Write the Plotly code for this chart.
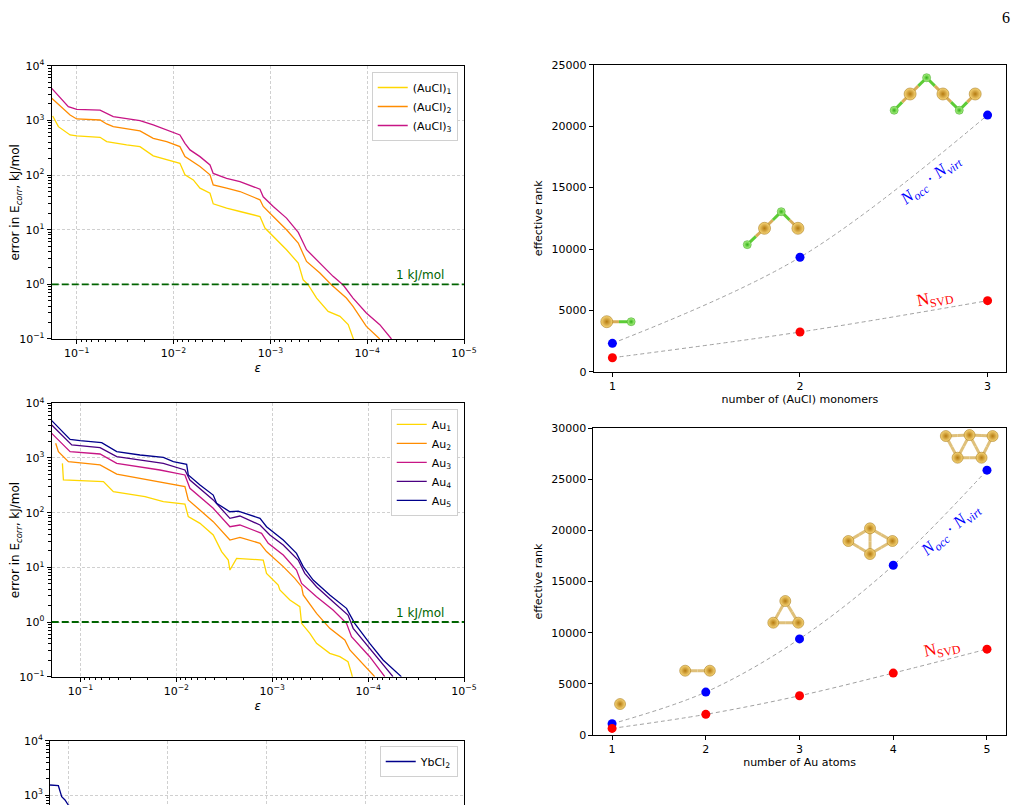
import plotly.graph_objects as go

# ---------------- convergence of the error with eps: (AuCl)n ----------------
eps_aucl1 = [0.177, 0.1545, 0.117, 0.1, 0.0574, 0.049, 0.0305, 0.0222, 0.0162, 0.01178, 0.00859,
             0.00762, 0.00625, 0.00533, 0.0042, 0.00389, 0.00283, 0.00206, 0.00128, 0.001137,
             0.000863, 0.000681, 0.000515, 0.000458, 0.000406, 0.000333, 0.000253, 0.000191,
             0.000157, 0.00014, 0.000134]
err_aucl1 = [1202, 767, 541, 518, 490, 408, 355, 331, 224, 189, 164, 101, 81.4, 57.4, 46.5, 29.7,
             24.7, 21.5, 17.4, 10.7, 6.53, 4.29, 2.45, 1.21, 0.98, 0.561, 0.320, 0.259, 0.183,
             0.112, 0.0845]

eps_aucl2 = [0.181, 0.117, 0.1, 0.0574, 0.049, 0.0419, 0.0222, 0.0162, 0.01178, 0.00859, 0.00762,
             0.00676, 0.00533, 0.0042, 0.00389, 0.00283, 0.00206, 0.00128, 0.001185, 0.000934,
             0.000681, 0.000515, 0.000423, 0.000308, 0.000233, 0.000164, 0.00014, 0.000102,
             0.0000741]
err_aucl2 = [2530, 1256, 1062, 1016, 859, 769, 640, 470, 408, 331, 217, 189, 143, 101, 66, 57.4,
             49.9, 35.2, 26.6, 17.4, 9.96, 5.68, 2.62, 1.61, 0.97, 0.561, 0.395, 0.170, 0.1]

eps_aucl3 = [0.181, 0.122, 0.1, 0.0574, 0.0419, 0.0222, 0.0162, 0.01178, 0.00859, 0.00762, 0.00676,
             0.00533, 0.0042, 0.00389, 0.00283, 0.00206, 0.00128, 0.001185, 0.000934, 0.000681,
             0.000515, 0.000423, 0.000308, 0.000225, 0.000177, 0.00014, 0.000102, 0.0000741,
             0.0000561]
err_aucl3 = [3855, 1780, 1590, 1540, 1170, 990, 824, 668, 541, 380, 288, 217, 153, 107, 87, 76, 55,
             40, 26.5, 16.3, 8.9, 4.3, 2.45, 1.40, 0.97, 0.56, 0.30, 0.183, 0.1]

# ---------------- convergence of the error with eps: Au_n ----------------
eps_au1 = [0.154, 0.1503, 0.0575, 0.0453, 0.0212, 0.01365, 0.00813, 0.0075, 0.00566, 0.00412,
           0.00337, 0.00287, 0.00276, 0.00235, 0.00124, 0.001146, 0.000865, 0.000832, 0.000654,
           0.000515, 0.000494, 0.000405, 0.000345, 0.000251, 0.000197, 0.000162, 0.000149, 0.000143]
err_au1 = [798, 396, 369, 242, 196, 159, 144, 84.5, 63.8, 39.0, 19.4, 13.6, 8.93, 14.6, 13.6, 7.76,
           4.75, 3.85, 2.52, 1.91, 0.946, 0.621, 0.407, 0.267, 0.232, 0.188, 0.115, 0.0869]

eps_au2 = [0.181, 0.1695, 0.1333, 0.0624, 0.0418, 0.01074, 0.00813, 0.0075, 0.00412, 0.00276,
           0.00217, 0.00134, 0.001146, 0.000767, 0.000581, 0.000494, 0.000475, 0.000345, 0.000251,
           0.000175, 0.000155, 0.0000853]
err_au2 = [1855, 1306, 857, 745, 509, 321, 299, 171, 68.4, 31.6, 35.4, 27.5, 19.4, 10.3, 6.29, 4.43,
           3.12, 1.44, 0.766, 0.469, 0.308, 0.1]

eps_au3 = [0.199, 0.128, 0.0624, 0.0418, 0.0148, 0.00813, 0.00721, 0.00412, 0.00276, 0.00217,
           0.00129, 0.0011, 0.000767, 0.000558, 0.000494, 0.000345, 0.000232, 0.000168, 0.000149,
           0.0000962, 0.000067]
err_au3 = [2820, 1306, 1183, 798, 603, 489, 279, 120, 55.4, 59.5, 41.9, 27.5, 16.8, 8.93, 5.09, 2.90,
           1.66, 0.946, 0.540, 0.232, 0.1]

eps_au4 = [0.199, 0.123, 0.0624, 0.0418, 0.01365, 0.00813, 0.00721, 0.00412, 0.00276, 0.00217,
           0.00134, 0.001057, 0.000767, 0.000536, 0.000457, 0.000345, 0.000232, 0.000162, 0.000143,
           0.0000962, 0.000055]
err_au4 = [4020, 1730, 1545, 1057, 798, 603, 396, 171, 78.8, 86.9, 59.5, 39.0, 25.6, 13.6, 7.76, 4.43,
           2.35, 1.34, 0.766, 0.330, 0.1]

eps_au5 = [0.199, 0.128, 0.1008, 0.060, 0.0418, 0.0239, 0.01365, 0.01074, 0.0078, 0.0075, 0.00566,
           0.00412, 0.0038, 0.00276, 0.00226, 0.00134, 0.001146, 0.000767, 0.000558, 0.000475,
           0.000374, 0.000251, 0.000168, 0.000138, 0.0000962, 0.0000698, 0.000045]
err_au5 = [4820, 2190, 2075, 1907, 1306, 1135, 1028, 857, 766, 489, 321, 210, 148, 104, 107, 78.8,
           55.4, 31.6, 18.0, 10.3, 5.86, 3.12, 1.78, 0.946, 0.407, 0.202, 0.1]

# ---------------- YbCl2 (only the top of this panel is on the page) ----------------
eps_ybcl2 = [0.153, 0.126, 0.1166, 0.108, 0.1, 0.085, 0.07]
err_ybcl2 = [1528, 1483, 931, 809, 654, 560, 480]

# ---------------- effective rank ----------------
n_aucl = [1, 2, 3]
rank_full_aucl = [2330, 9330, 20900]
rank_svd_aucl = [1160, 3250, 5800]

n_au = [1, 2, 3, 4, 5]
rank_full_au = [1100, 4200, 9400, 16600, 25900]
rank_svd_au = [650, 2020, 3840, 6060, 8400]

# tick labels
log_x_ticks = [1e-1, 1e-2, 1e-3, 1e-4, 1e-5]
log_x_text = ['10<sup>−1</sup>', '10<sup>−2</sup>', '10<sup>−3</sup>', '10<sup>−4</sup>', '10<sup>−5</sup>']
log_y_ticks = [1e-1, 1, 10, 100, 1000, 10000]
log_y_text = ['10<sup>−1</sup>', '10<sup>0</sup>', '10<sup>1</sup>', '10<sup>2</sup>', '10<sup>3</sup>', '10<sup>4</sup>']

# molecule sketches drawn above the rank points: (x, y, element), bonds
mol_aucl = [
    ([(0.97, 4090, 'Au'), (1.10, 4090, 'Cl')], [(0, 1)]),
    ([(1.719, 10360, 'Cl'), (1.811, 11690, 'Au'), (1.90, 13040, 'Cl'), (1.989, 11690, 'Au')],
     [(0, 1), (1, 2), (2, 3)]),
    ([(2.502, 21290, 'Cl'), (2.587, 22615, 'Au'), (2.675, 23940, 'Cl'), (2.762, 22615, 'Au'),
      (2.849, 21290, 'Cl'), (2.934, 22615, 'Au')], [(0, 1), (1, 2), (2, 3), (3, 4), (4, 5)]),
]
mol_au = [
    ([(1.085, 3030, 'Au')], []),
    ([(1.78, 6290, 'Au'), (2.043, 6290, 'Au')], [(0, 1)]),
    ([(2.848, 13105, 'Au'), (2.72, 10985, 'Au'), (2.987, 10985, 'Au')], [(0, 1), (0, 2), (1, 2)]),
    ([(3.521, 18975, 'Au'), (3.752, 20215, 'Au'), (3.752, 17700, 'Au'), (3.991, 18975, 'Au')],
     [(0, 1), (0, 2), (1, 2), (1, 3), (2, 3)]),
    ([(4.561, 29240, 'Au'), (4.814, 29340, 'Au'), (5.06, 29240, 'Au'), (4.686, 27120, 'Au'),
      (4.942, 27120, 'Au')], [(0, 1), (1, 2), (0, 3), (3, 1), (1, 4), (4, 2), (3, 4)]),
]

FONT = 'DejaVu Sans'
SERIF = 'Liberation Serif'

fig = go.Figure()


def curve(eps, err, name, color, n, legend):
    fig.add_trace(go.Scatter(x=eps, y=err, mode='lines', name=name,
                             line=dict(color=color, width=1.3),
                             xaxis='x' + n, yaxis='y' + n, legend=legend))


curve(eps_aucl1, err_aucl1, '(AuCl)<sub>1</sub>', 'gold', '', 'legend')
curve(eps_aucl2, err_aucl2, '(AuCl)<sub>2</sub>', 'darkorange', '', 'legend')
curve(eps_aucl3, err_aucl3, '(AuCl)<sub>3</sub>', 'mediumvioletred', '', 'legend')

curve(eps_au1, err_au1, 'Au<sub>1</sub>', 'gold', '2', 'legend2')
curve(eps_au2, err_au2, 'Au<sub>2</sub>', 'darkorange', '2', 'legend2')
curve(eps_au3, err_au3, 'Au<sub>3</sub>', 'mediumvioletred', '2', 'legend2')
curve(eps_au4, err_au4, 'Au<sub>4</sub>', 'indigo', '2', 'legend2')
curve(eps_au5, err_au5, 'Au<sub>5</sub>', 'darkblue', '2', 'legend2')

curve(eps_ybcl2, err_ybcl2, 'YbCl<sub>2</sub>', 'darkblue', '3', 'legend3')

# 1 kJ/mol threshold
for n in ['', '2']:
    fig.add_shape(type='line', xref='x' + n + ' domain', yref='y' + n, x0=0, x1=1, y0=1, y1=1,
                  line=dict(color='darkgreen', width=1.8, dash='7px,3px'))
    fig.add_annotation(xref='x' + n + ' domain', yref='y' + n, x=0.956, y=0, xanchor='right',
                       yanchor='bottom', yshift=0, showarrow=False, text='1 kJ/mol',
                       font=dict(family=FONT, size=12, color='darkgreen'))


def rank_panel(n, xs, full, svd):
    for vals in (full, svd):
        fig.add_trace(go.Scatter(x=xs, y=vals, mode='lines', line_shape='spline',
                                 line=dict(color='#a0a0a0', width=1, dash='4px,3px'),
                                 xaxis='x' + n, yaxis='y' + n, showlegend=False))
    fig.add_trace(go.Scatter(x=xs, y=full, mode='markers', marker=dict(color='blue', size=9),
                             xaxis='x' + n, yaxis='y' + n, showlegend=False))
    fig.add_trace(go.Scatter(x=xs, y=svd, mode='markers', marker=dict(color='red', size=9),
                             xaxis='x' + n, yaxis='y' + n, showlegend=False))


rank_panel('4', n_aucl, rank_full_aucl, rank_svd_aucl)
rank_panel('5', n_au, rank_full_au, rank_svd_au)

atom_style = {
    'Au': dict(color='#f8d77a', gradient=dict(type='radial', color='#b47a10'),
               line=dict(color='#9a6a08', width=0.5)),
    'Cl': dict(color='#b8f890', gradient=dict(type='radial', color='#32b016'),
               line=dict(color='#2a9a10', width=0.5)),
}
bond_color = {'Au': '#d8ad58', 'Cl': '#5ccc36'}


def molecule(atoms, bonds, n, au_size, cl_size, plain_bond=None):
    for i, j in bonds:
        xi, yi, ei = atoms[i]
        xj, yj, ej = atoms[j]
        xm, ym = (xi + xj) / 2, (yi + yj) / 2
        for x0, y0, e in ((xi, yi, ei), (xj, yj, ej)):
            fig.add_trace(go.Scatter(x=[x0, xm], y=[y0, ym], mode='lines', cliponaxis=False,
                                     line=dict(color=plain_bond or bond_color[e], width=3),
                                     xaxis='x' + n, yaxis='y' + n, showlegend=False))
    for e, size in (('Au', au_size), ('Cl', cl_size)):
        pts = [a for a in atoms if a[2] == e]
        if pts:
            fig.add_trace(go.Scatter(x=[a[0] for a in pts], y=[a[1] for a in pts], mode='markers',
                                     cliponaxis=False, marker=dict(size=size, **atom_style[e]),
                                     xaxis='x' + n, yaxis='y' + n, showlegend=False))


for atoms, bonds in mol_aucl:
    molecule(atoms, bonds, '4', 12, 8)
for atoms, bonds in mol_au:
    molecule(atoms, bonds, '5', 11, 8, plain_bond='#dfc07a')

# curve labels on the rank panels
labels = [
    ('4', 2.70, 15620, -38, 'blue', '<i>N</i><sub><i>occ</i></sub> · <i>N</i><sub><i>virt</i></sub>'),
    ('4', 2.72, 5940, -11, 'red', 'N<sub>SVD</sub>'),
    ('5', 4.62, 20050, -41, 'blue', '<i>N</i><sub><i>occ</i></sub> · <i>N</i><sub><i>virt</i></sub>'),
    ('5', 4.525, 8380, -12, 'red', 'N<sub>SVD</sub>'),
]
for n, x, y, ang, col, txt in labels:
    fig.add_annotation(xref='x' + n, yref='y' + n, x=x, y=y, text=txt, showarrow=False,
                       textangle=ang, font=dict(family=SERIF, size=17, color=col))

# page number
fig.add_annotation(xref='paper', yref='paper', x=0.991, y=1, text='6', showarrow=False,
                   xanchor='right', yanchor='top', borderpad=0,
                   font=dict(family=SERIF, size=16, color='black'))

grid = dict(showgrid=True, gridcolor='#d0d0d0', gridwidth=0.8, griddash='3px,2px')
minor = dict(ticks='outside', ticklen=2.5, tickwidth=0.8, tickcolor='black', dtick='D1', showgrid=False)
common = dict(showline=True, linecolor='black', linewidth=1, mirror=True, ticks='outside',
              ticklen=4, tickwidth=1, tickcolor='black', zeroline=False, automargin=False,
              tickfont=dict(family=FONT, size=11, color='black'))


def log_x(dom, rng, anchor, title=True, **kw):
    d = dict(domain=dom, type='log', range=rng, anchor=anchor, tickmode='array',
             tickvals=log_x_ticks, ticktext=log_x_text, minor=minor, **grid, **common)
    if title:
        d['title'] = dict(text='<i>ε</i>', font=dict(family=FONT, size=12), standoff=4)
    d.update(kw)
    return d


def log_y(dom, rng, anchor):
    return dict(domain=dom, type='log', range=rng, anchor=anchor, tickmode='array',
                tickvals=log_y_ticks, ticktext=log_y_text, minor=minor, **grid, **common,
                title=dict(text='error in E<sub><i>corr</i></sub>, kJ/mol',
                           font=dict(family=FONT, size=12), standoff=6))


def lin_x(dom, rng, anchor, ticks, title):
    return dict(domain=dom, range=rng, anchor=anchor, tickmode='array', tickvals=ticks,
                showgrid=False, **common, title=dict(text=title, font=dict(family=FONT, size=11),
                                                     standoff=3))


def lin_y(dom, rng, anchor, dtick):
    return dict(domain=dom, range=rng, anchor=anchor, dtick=dtick, tickformat='d', showgrid=False,
                **common, title=dict(text='effective rank', font=dict(family=FONT, size=11), standoff=6))


legend_style = dict(bgcolor='white', bordercolor='#d0d0d0', borderwidth=1, xanchor='right',
                    yanchor='top', font=dict(family=FONT, size=11, color='black'),
                    tracegroupgap=0, itemwidth=30)

# the page body has an 8px margin, so the figure is 8px smaller than the window
fig.update_layout(
    width=1012, height=797, margin=dict(l=0, r=0, t=0, b=0),
    template='none', paper_bgcolor='white', plot_bgcolor='white',
    font=dict(family=FONT, size=11, color='black'),
    xaxis=log_x([0.0432, 0.4506], [-0.742, -5], 'y'),
    yaxis=log_y([0.5847, 0.9276], [-1, 4], 'x'),
    xaxis2=log_x([0.0432, 0.4506], [-0.701, -5], 'y2'),
    yaxis2=log_y([0.1610, 0.5040], [-1, 4], 'x2'),
    xaxis3=log_x([0.0415, 0.4506], [-0.815, -5], 'y3', title=False, side='top', mirror=False,
                 showticklabels=False, ticks='', minor=dict(ticks='')),
    yaxis3=dict(log_y([0.0, 0.0807], [2.816, 4], 'x3'), title=dict(text='')),
    xaxis4=lin_x([0.5787, 0.9865], [0.9, 3.1], 'y4', n_aucl, 'number of (AuCl) monomers'),
    yaxis4=lin_y([0.5433, 0.9289], [0, 25000], 'x4', 5000),
    xaxis5=lin_x([0.5784, 0.9859], [0.8, 5.2], 'y5', n_au, 'number of Au atoms'),
    yaxis5=lin_y([0.0878, 0.4727], [0, 30000], 'x5', 5000),
    legend=dict(legend_style, x=0.4444, y=0.9197),
    legend2=dict(legend_style, x=0.4444, y=0.4969),
    legend3=dict(legend_style, x=0.4444, y=0.0740),
)

fig.write_html('out.html', config={'displayModeBar': False})
